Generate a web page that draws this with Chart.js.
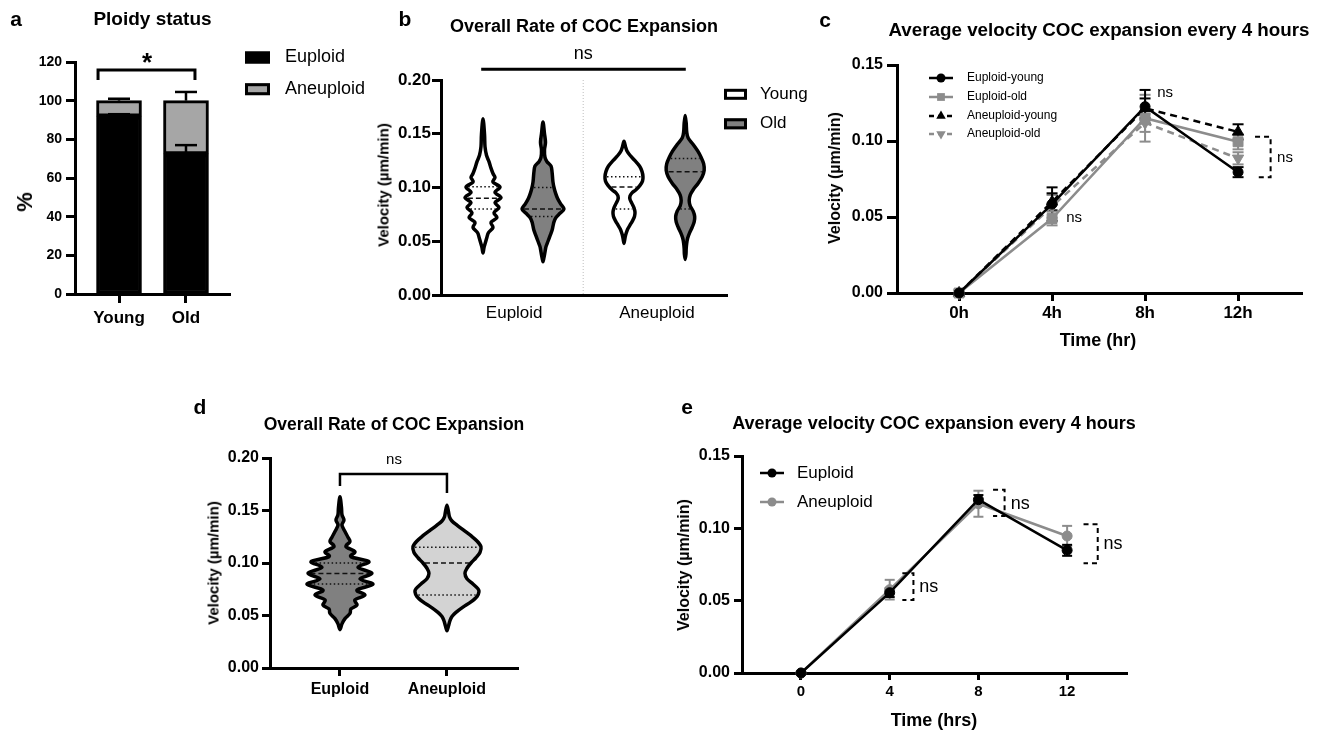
<!DOCTYPE html>
<html>
<head>
<meta charset="utf-8">
<script src="https://cdn.jsdelivr.net/npm/chart.js@4.4.3/dist/chart.umd.min.js"></script>
<style>
    html, body { margin: 0; padding: 0; background: #fff; }
    #fig { position: relative; width: 1320px; height: 730px; overflow: hidden; font-family: 'Liberation Sans', Arial, Helvetica, sans-serif; }
    #fig canvas { position: absolute; left: 0; top: 0; }
    .lbl { position: absolute; white-space: nowrap; transform: translate(-50%, -50%); color: #000; line-height: 1; }
    .rot { transform: translate(-50%, -50%) rotate(-90deg); }
</style>
</head>
<body>
<div id="fig"></div>
<script>
// ---- panel a: ploidy status ----
const ploidyGroups = ['Young', 'Old'];
const ploidyNames = ['Euploid', 'Aneuploid'];
const euploidPct = [92, 72.5];
const aneuploidPct = [8, 27.5];
const euploidErr = [1, 4.5];
const aneuploidErr = [1, 4.5];
const pctTicks = [0, 20, 40, 60, 80, 100, 120];

// ---- panel b: overall rate, ploidy x age (violin profiles: value, relative width) ----
const bCategories = ['Euploid', 'Aneuploid'];
const ageNames = ['Young', 'Old'];
const velTicks20 = [0, 0.05, 0.10, 0.15, 0.20];
const euYoungVel = [0.164, 0.150, 0.138, 0.130, 0.124, 0.118, 0.113, 0.1093, 0.105, 0.1005, 0.0955, 0.0907, 0.086, 0.0814, 0.0765, 0.072, 0.0675, 0.0628, 0.058, 0.054, 0.049, 0.044, 0.039];
const euYoungDens = [0, 1.5, 2, 3.5, 6, 8, 10, 12, 10, 17, 12, 18, 12, 16, 11, 14, 8, 10, 5.5, 4, 2.5, 1, 0];
const euYoungQuart = [0.08, 0.09, 0.1007];
const euOldVel = [0.161, 0.150, 0.142, 0.135, 0.128, 0.124, 0.120, 0.115, 0.110, 0.105, 0.100, 0.095, 0.090, 0.085, 0.080, 0.076, 0.072, 0.068, 0.064, 0.060, 0.055, 0.050, 0.045, 0.040, 0.035, 0.031];
const euOldDens = [0, 1.5, 2.5, 1.5, 2, 4, 8, 9, 9.5, 10, 11, 12.5, 14.5, 17.5, 21, 17, 13, 11, 10, 9, 7, 5, 3, 2, 1, 0];
const euOldQuart = [0.073, 0.08, 0.10];
const anYoungVel = [0.143, 0.138, 0.134, 0.130, 0.125, 0.120, 0.115, 0.110, 0.106, 0.102, 0.098, 0.095, 0.092, 0.089, 0.085, 0.081, 0.077, 0.073, 0.069, 0.065, 0.061, 0.057, 0.053, 0.048];
const anYoungDens = [0, 1.5, 3, 6, 11, 15.5, 18, 19, 18.5, 16, 12, 8, 6, 6, 8, 10, 11, 10.5, 8.5, 6, 3.5, 2, 1, 0];
const anYoungQuart = [0.08, 0.1005, 0.11];
const anOldVel = [0.167, 0.160, 0.152, 0.146, 0.140, 0.134, 0.128, 0.122, 0.116, 0.110, 0.104, 0.098, 0.093, 0.088, 0.083, 0.078, 0.073, 0.068, 0.063, 0.058, 0.053, 0.048, 0.043, 0.038, 0.033];
const anOldDens = [0, 1, 1.5, 3, 8, 12.5, 16, 18.5, 19, 17, 13, 8, 5, 4, 5, 8, 9.5, 9, 7, 4.5, 2.5, 1.5, 1, 0.8, 0];
const anOldQuart = [0.08, 0.1147, 0.127];

// ---- panel c: velocity every 4 h, four groups (mean, SEM) ----
const timeHours = [0, 4, 8, 12];
const timeLabelsC = ['0h', '4h', '8h', '12h'];
const velTicks15 = [0, 0.05, 0.10, 0.15];
const seriesNamesC = ['Euploid-young', 'Euploid-old', 'Aneuploid-young', 'Aneuploid-old'];
const euYoungMean = [0, 0.0585, 0.1226, 0.0795];
const euYoungSem = [0, 0.011, 0.011, 0.0033];
const euOldMean = [0, 0.049, 0.115, 0.0995];
const euOldSem = [0, 0.0045, 0.0154, 0.005];
const anYoungMean = [0, 0.060, 0.1215, 0.106];
const anYoungSem = [0, 0.0056, 0.0065, 0.005];
const anOldMean = [0, 0.057, 0.112, 0.0886];
const anOldSem = [0, 0.0075, 0.006, 0.004];

// ---- panel d: overall rate by ploidy ----
const dCategories = ['Euploid', 'Aneuploid'];
const euploidVel = [0.163, 0.153, 0.146, 0.141, 0.136, 0.130, 0.1245, 0.1203, 0.1156, 0.1108, 0.106, 0.1013, 0.0959, 0.0902, 0.0848, 0.0797, 0.0743, 0.0695, 0.0648, 0.060, 0.0562, 0.052, 0.047, 0.042, 0.0365];
const euploidDens = [0, 1.5, 2, 4, 2, 5, 8, 10, 6, 15, 11, 29, 18, 32, 20, 33, 17, 25, 15, 17, 11, 10, 5, 2, 0];
const euploidQuart = [0.08, 0.09, 0.10];
const aneuploidVel = [0.155, 0.149, 0.144, 0.140, 0.136, 0.131, 0.126, 0.121, 0.1156, 0.110, 0.105, 0.100, 0.095, 0.0902, 0.085, 0.080, 0.0755, 0.0727, 0.068, 0.063, 0.058, 0.053, 0.049, 0.045, 0.040, 0.0355];
const aneuploidDens = [0, 1.5, 2.5, 5, 10, 17, 24, 30, 34, 33, 29, 24, 20, 18, 20, 26, 31, 32, 30, 24, 16, 9, 5, 3, 1.5, 0];
const aneuploidQuart = [0.0695, 0.10, 0.115];

// ---- panel e: velocity every 4 h by ploidy (mean, SEM) ----
const timeLabelsE = ['0', '4', '8', '12'];
const seriesNamesE = ['Euploid', 'Aneuploid'];
const euploidMean = [0, 0.0555, 0.1198, 0.0848];
const euploidSem = [0, 0.003, 0.0032, 0.0038];
const aneuploidMean = [0, 0.0576, 0.117, 0.0947];
const aneuploidSem = [0, 0.0068, 0.009, 0.007];

const FONT = "'Liberation Sans', Arial, Helvetica, sans-serif";
const W = 1320, H = 730;
const AXIS_W = 60, AXIS_H = 40;
const GRAY = '#8c8c8c';
const fig = document.getElementById('fig');

function addText(txt, x, y, size, bold, rotate) {
    const d = document.createElement('div');
    d.className = 'lbl' + (rotate ? ' rot' : '');
    d.textContent = txt;
    d.style.left = x + 'px';
    d.style.top = y + 'px';
    d.style.fontSize = size + 'px';
    d.style.fontWeight = bold ? 'bold' : 'normal';
    fig.appendChild(d);
}

function makeCtx() {
    const c = document.createElement('canvas');
    c.width = W;
    c.height = H;
    fig.appendChild(c);
    return c.getContext('2d');
}

function padFor(a) {
    return { left: a.l - AXIS_W, top: a.t, right: W - a.r, bottom: H - a.b - AXIS_H };
}

function axis(o) {
    return {
        type: 'linear', min: o.min, max: o.max, offset: false, stacked: !!o.stacked,
        afterBuildTicks: (s) => { s.ticks = o.ticks.map((v) => ({ value: v })); },
        afterFit: (s) => { if (o.isX) s.height = AXIS_H; else s.width = AXIS_W; },
        grid: { display: o.tickLen > 0, drawOnChartArea: false, drawTicks: true, tickLength: o.tickLen, tickWidth: 3, tickColor: '#000', offset: false },
        border: { display: true, color: '#000', width: 3 },
        ticks: {
            color: '#000', padding: o.pad, maxRotation: 0, autoSkip: false, callback: o.fmt,
            font: { family: FONT, size: o.size, weight: o.bold ? 'bold' : 'normal', lineHeight: 1.2 },
        },
    };
}

function baseOptions(area) {
    return {
        responsive: false, animation: false, devicePixelRatio: 1,
        layout: { padding: padFor(area) },
        plugins: { legend: { display: false }, tooltip: { enabled: false } },
    };
}

// drawing helpers
function path(ctx, pts, width, color, dash) {
    ctx.save();
    ctx.beginPath();
    ctx.lineWidth = width;
    ctx.strokeStyle = color;
    ctx.lineCap = 'butt';
    ctx.setLineDash(dash || []);
    pts.forEach((p, i) => (i ? ctx.lineTo(p[0], p[1]) : ctx.moveTo(p[0], p[1])));
    ctx.stroke();
    ctx.restore();
}

function label(ctx, s, x, y, size, bold, align) {
    ctx.save();
    ctx.fillStyle = '#000';
    ctx.font = (bold ? 'bold ' : '') + size + 'px ' + FONT;
    ctx.textAlign = align || 'center';
    ctx.textBaseline = 'middle';
    ctx.fillText(s, x, y);
    ctx.restore();
}

function marker(ctx, style, x, y, r, color) {
    ctx.save();
    ctx.fillStyle = color;
    ctx.beginPath();
    if (style === 'circle') {
        ctx.arc(x, y, r, 0, Math.PI * 2);
    } else if (style === 'rect') {
        ctx.rect(x - r * 0.707, y - r * 0.707, r * 1.414, r * 1.414);
    } else {
        const s = style === 'triangle' ? 1 : -1;
        ctx.moveTo(x, y - s * r);
        ctx.lineTo(x + r * 0.866, y + s * r * 0.5);
        ctx.lineTo(x - r * 0.866, y + s * r * 0.5);
        ctx.closePath();
    }
    ctx.fill();
    ctx.restore();
}

function legendBox(ctx, x, y, w, h, fill) {
    ctx.save();
    ctx.fillStyle = fill;
    ctx.fillRect(x - w / 2, y - h / 2, w, h);
    ctx.lineWidth = 3;
    ctx.strokeStyle = '#000';
    ctx.strokeRect(x - w / 2 + 1.5, y - h / 2 + 1.5, w - 3, h - 3);
    ctx.restore();
}

function densAt(vals, dens, q) {
    for (let i = 0; i < vals.length - 1; i++) {
        if (q <= vals[i] && q >= vals[i + 1]) {
            const t = (vals[i] - q) / (vals[i] - vals[i + 1]);
            return dens[i] + t * (dens[i + 1] - dens[i]);
        }
    }
    return 0;
}

function drawViolin(chart, v, scale) {
    const { ctx } = chart;
    const xs = chart.scales.x, ys = chart.scales.y;
    const pts = [];
    const n = v.vals.length;
    for (let i = 0; i < n; i++) pts.push([xs.getPixelForValue(v.pos + v.dens[i] * scale), ys.getPixelForValue(v.vals[i])]);
    for (let i = n - 2; i > 0; i--) pts.push([xs.getPixelForValue(v.pos - v.dens[i] * scale), ys.getPixelForValue(v.vals[i])]);

    // closed Catmull-Rom outline
    const outline = new Path2D();
    const m = pts.length;
    outline.moveTo(pts[0][0], pts[0][1]);
    for (let i = 0; i < m; i++) {
        const p0 = pts[(i - 1 + m) % m], p1 = pts[i], p2 = pts[(i + 1) % m], p3 = pts[(i + 2) % m];
        const t = 1 / 6;
        outline.bezierCurveTo(
            p1[0] + (p2[0] - p0[0]) * t, p1[1] + (p2[1] - p0[1]) * t,
            p2[0] - (p3[0] - p1[0]) * t, p2[1] - (p3[1] - p1[1]) * t,
            p2[0], p2[1]
        );
    }
    outline.closePath();

    ctx.save();
    ctx.fillStyle = v.fill;
    ctx.fill(outline);

    // quartiles: dotted, median: dashed
    v.quart.forEach((q, qi) => {
        const half = densAt(v.vals, v.dens, q) * scale;
        const x0 = xs.getPixelForValue(v.pos - half) + 2;
        const x1 = xs.getPixelForValue(v.pos + half) - 2;
        const py = ys.getPixelForValue(q);
        path(ctx, [[x0, py], [x1, py]], 1.4, '#111', qi === 1 ? [5, 3] : [1.5, 2.5]);
    });

    ctx.lineWidth = 3.5;
    ctx.lineJoin = 'round';
    ctx.strokeStyle = '#000';
    ctx.setLineDash([]);
    ctx.stroke(outline);
    ctx.restore();
}

function drawErrorBars(chart, xs, means, sems, color, cap) {
    const { ctx } = chart;
    const sx = chart.scales.x, sy = chart.scales.y;
    xs.forEach((xv, i) => {
        if (!sems[i]) return;
        const px = sx.getPixelForValue(xv);
        const top = sy.getPixelForValue(means[i] + sems[i]);
        const bot = sy.getPixelForValue(means[i] - sems[i]);
        path(ctx, [[px, top], [px, bot]], 2, color);
        path(ctx, [[px - cap / 2, top], [px + cap / 2, top]], 2, color);
        path(ctx, [[px - cap / 2, bot], [px + cap / 2, bot]], 2, color);
    });
}

function dashBracket(chart, x0, x1, v0, v1) {
    const sx = chart.scales.x, sy = chart.scales.y;
    const a = sx.getPixelForValue(x0), b = sx.getPixelForValue(x1);
    const t = sy.getPixelForValue(v0), u = sy.getPixelForValue(v1);
    path(chart.ctx, [[a, t], [b, t], [b, u], [a, u]], 2, '#000', [5, 4]);
}

// ================= panel a =================
const areaA = { l: 75, t: 62, r: 230, b: 294 };
const ploidyExtras = {
    id: 'ploidyExtras',
    afterDatasetsDraw(chart) {
        const { ctx } = chart;
        const sx = chart.scales.x, sy = chart.scales.y;
        ploidyGroups.forEach((g, i) => {
            const px = sx.getPixelForValue(i);
            const stacks = [[euploidPct[i], euploidErr[i]], [euploidPct[i] + aneuploidPct[i], aneuploidErr[i]]];
            stacks.forEach(([base, err]) => {
                const y0 = sy.getPixelForValue(base), y1 = sy.getPixelForValue(base + err);
                path(ctx, [[px, y0], [px, y1]], 2.5, '#000');
                path(ctx, [[px - 11, y1], [px + 11, y1]], 2.5, '#000');
            });
        });
    },
    afterDraw(chart) {
        const { ctx } = chart;
        const sx = chart.scales.x, sy = chart.scales.y;
        const l = sx.getPixelForValue(-0.313), r = sx.getPixelForValue(1.134);
        const top = sy.getPixelForValue(115.9), low = sy.getPixelForValue(110.7);
        path(ctx, [[l, low], [l, top], [r, top], [r, low]], 3, '#000');
        label(ctx, '*', sx.getPixelForValue(0.418), sy.getPixelForValue(122.6) + 7, 26, true);
        // legend
        const rows = [57.5, 89.2];
        const fills = ['#000', '#a6a6a6'];
        ploidyNames.forEach((name, i) => {
            legendBox(ctx, 257.5, rows[i], 25, 12, fills[i]);
            label(ctx, name, 285, rows[i], 18, false, 'left');
        });
    },
};

new Chart(makeCtx(), {
    type: 'bar',
    data: {
        datasets: [
            { label: ploidyNames[0], data: ploidyGroups.map((g, i) => ({ x: i, y: euploidPct[i] })), backgroundColor: '#000', borderColor: '#000', borderWidth: 3, borderSkipped: false, barThickness: 45 },
            { label: ploidyNames[1], data: ploidyGroups.map((g, i) => ({ x: i, y: aneuploidPct[i] })), backgroundColor: '#a6a6a6', borderColor: '#000', borderWidth: 3, borderSkipped: false, barThickness: 45 },
        ],
    },
    options: Object.assign(baseOptions(areaA), {
        scales: {
            x: axis({ min: -0.657, max: 1.657, ticks: [0, 1], isX: true, tickLen: 9, pad: 5, size: 17, bold: true, stacked: true, fmt: (v, i) => ploidyGroups[i] }),
            y: axis({ min: 0, max: 120, ticks: pctTicks, tickLen: 9, pad: 4, size: 14, bold: true, stacked: true, fmt: (v) => String(v) }),
        },
    }),
    plugins: [ploidyExtras],
});

// ================= panel b =================
const areaB = { l: 441, t: 80, r: 727, b: 295 };
const violinsB = [
    { vals: euYoungVel, dens: euYoungDens, quart: euYoungQuart, pos: 0.7, fill: '#ffffff' },
    { vals: euOldVel, dens: euOldDens, quart: euOldQuart, pos: 1.7, fill: '#808080' },
    { vals: anYoungVel, dens: anYoungDens, quart: anYoungQuart, pos: 3.05, fill: '#ffffff' },
    { vals: anOldVel, dens: anOldDens, quart: anOldQuart, pos: 4.07, fill: '#808080' },
];
const violinExtrasB = {
    id: 'violinExtrasB',
    beforeDatasetsDraw(chart) {
        const sx = chart.scales.x, a = chart.chartArea;
        const px = sx.getPixelForValue(2.37);
        path(chart.ctx, [[px, a.top], [px, a.bottom]], 1, '#bdbdbd', [1, 2]);
    },
    afterDatasetsDraw(chart) {
        violinsB.forEach((v) => drawViolin(chart, v, 1 / 60));
    },
    afterDraw(chart) {
        const { ctx } = chart;
        const sx = chart.scales.x, sy = chart.scales.y;
        const yb = sy.getPixelForValue(0.21);
        path(ctx, [[sx.getPixelForValue(0.67), yb], [sx.getPixelForValue(4.08), yb]], 3, '#000');
        label(ctx, 'ns', sx.getPixelForValue(2.37), sy.getPixelForValue(0.224), 18, false);
        const rows = [94.3, 123.8];
        const fills = ['#ffffff', '#808080'];
        ageNames.forEach((name, i) => {
            legendBox(ctx, 735.5, rows[i], 23, 11, fills[i]);
            label(ctx, name, 760, rows[i], 17, false, 'left');
        });
    },
};

new Chart(makeCtx(), {
    type: 'scatter',
    data: { datasets: [] },
    options: Object.assign(baseOptions(areaB), {
        scales: {
            x: axis({ min: 0, max: 4.767, ticks: [1.22, 3.6], isX: true, tickLen: 0, pad: 8, size: 17, bold: false, fmt: (v, i) => bCategories[i] }),
            y: axis({ min: 0, max: 0.2, ticks: velTicks20, tickLen: 9, pad: 1, size: 17, bold: true, fmt: (v) => v.toFixed(2) }),
        },
    }),
    plugins: [violinExtrasB],
});

// ================= panel c =================
const areaC = { l: 897, t: 65, r: 1302, b: 293 };
const pts = (means) => timeHours.map((h, i) => ({ x: h, y: means[i] }));
const seriesC = [
    { mean: euYoungMean, sem: euYoungSem, color: '#000', dash: [], style: 'circle', r: 5 },
    { mean: euOldMean, sem: euOldSem, color: GRAY, dash: [], style: 'rect', r: 7 },
    { mean: anYoungMean, sem: anYoungSem, color: '#000', dash: [7, 5], style: 'triangle', r: 6.5 },
    { mean: anOldMean, sem: anOldSem, color: GRAY, dash: [7, 5], style: 'triangleDown', r: 6.5 },
];
const drawOrderC = [0, 1, 3, 2];
const extrasC = {
    id: 'extrasC',
    beforeDatasetsDraw(chart) {
        seriesC.slice().reverse().forEach((s) => drawErrorBars(chart, timeHours, s.mean, s.sem, s.color, 11));
    },
    afterDraw(chart) {
        const { ctx } = chart;
        const sx = chart.scales.x, sy = chart.scales.y;
        label(ctx, 'ns', sx.getPixelForValue(8.86), sy.getPixelForValue(0.1316), 15, false);
        label(ctx, 'ns', sx.getPixelForValue(4.95), sy.getPixelForValue(0.0493), 15, false);
        dashBracket(chart, 12.73, 13.4, 0.1028, 0.0761);
        label(ctx, 'ns', sx.getPixelForValue(14.02), sy.getPixelForValue(0.0888), 15, false);
        const rows = [78, 97, 116, 134];
        seriesC.forEach((s, i) => {
            path(ctx, [[929, rows[i]], [953, rows[i]]], 2.5, s.color, s.dash.length ? [5, 4] : []);
            marker(ctx, s.style, 941, rows[i], s.style === 'circle' ? 4.5 : 5.5, s.color);
            label(ctx, seriesNamesC[i], 967, rows[i], 12, false, 'left');
        });
    },
};

new Chart(makeCtx(), {
    type: 'line',
    data: {
        datasets: drawOrderC.map((k) => {
            const s = seriesC[k];
            return {
                label: seriesNamesC[k], data: pts(s.mean), borderColor: s.color, borderWidth: 2.5, borderDash: s.dash,
                pointStyle: s.style === 'triangleDown' ? 'triangle' : s.style, pointRotation: s.style === 'triangleDown' ? 180 : 0,
                pointRadius: s.r, pointBackgroundColor: s.color, pointBorderColor: s.color, pointBorderWidth: 1,
                tension: 0, fill: false, clip: false,
            };
        }),
    },
    options: Object.assign(baseOptions(areaC), {
        scales: {
            x: axis({ min: -2.67, max: 14.75, ticks: timeHours, isX: true, tickLen: 8, pad: 2, size: 17, bold: true, fmt: (v, i) => timeLabelsC[i] }),
            y: axis({ min: 0, max: 0.15, ticks: velTicks15, tickLen: 10, pad: 4, size: 16, bold: true, fmt: (v) => v.toFixed(2) }),
        },
    }),
    plugins: [extrasC],
});

// ================= panel d =================
const areaD = { l: 270, t: 458, r: 518, b: 668 };
const violinsD = [
    { vals: euploidVel, dens: euploidDens, quart: euploidQuart, pos: 0, fill: '#808080' },
    { vals: aneuploidVel, dens: aneuploidDens, quart: aneuploidQuart, pos: 1, fill: '#d3d3d3' },
];
const violinExtrasD = {
    id: 'violinExtrasD',
    afterDatasetsDraw(chart) {
        violinsD.forEach((v) => drawViolin(chart, v, 1 / 107));
    },
    afterDraw(chart) {
        const { ctx } = chart;
        const sx = chart.scales.x, sy = chart.scales.y;
        const l = sx.getPixelForValue(0), r = sx.getPixelForValue(1);
        path(ctx, [[l, sy.getPixelForValue(0.1733)], [l, sy.getPixelForValue(0.1848)], [r, sy.getPixelForValue(0.1848)], [r, sy.getPixelForValue(0.1667)]], 2.5, '#000');
        label(ctx, 'ns', sx.getPixelForValue(0.505), sy.getPixelForValue(0.198), 15, false);
    },
};

new Chart(makeCtx(), {
    type: 'scatter',
    data: { datasets: [] },
    options: Object.assign(baseOptions(areaD), {
        scales: {
            x: axis({ min: -0.654, max: 1.664, ticks: [0, 1], isX: true, tickLen: 8, pad: 4, size: 16, bold: true, fmt: (v, i) => dCategories[i] }),
            y: axis({ min: 0, max: 0.2, ticks: velTicks20, tickLen: 8, pad: 3, size: 16, bold: true, fmt: (v) => v.toFixed(2) }),
        },
    }),
    plugins: [violinExtrasD],
});

// ================= panel e =================
const areaE = { l: 742, t: 456, r: 1127, b: 673 };
const seriesE = [
    { mean: euploidMean, sem: euploidSem, color: '#000' },
    { mean: aneuploidMean, sem: aneuploidSem, color: GRAY },
];
const extrasE = {
    id: 'extrasE',
    beforeDatasetsDraw(chart) {
        seriesE.slice().reverse().forEach((s) => drawErrorBars(chart, timeHours, s.mean, s.sem, s.color, 10));
    },
    afterDraw(chart) {
        const { ctx } = chart;
        const sx = chart.scales.x, sy = chart.scales.y;
        dashBracket(chart, 4.57, 5.07, 0.069, 0.0504);
        label(ctx, 'ns', sx.getPixelForValue(5.76), sy.getPixelForValue(0.0594), 18, false);
        dashBracket(chart, 8.66, 9.18, 0.1266, 0.1086);
        label(ctx, 'ns', sx.getPixelForValue(9.89), sy.getPixelForValue(0.1168), 18, false);
        dashBracket(chart, 12.74, 13.38, 0.1028, 0.0758);
        label(ctx, 'ns', sx.getPixelForValue(14.07), sy.getPixelForValue(0.0892), 18, false);
        const rows = [473, 502];
        seriesE.forEach((s, i) => {
            path(ctx, [[760, rows[i]], [784, rows[i]]], 2.5, s.color);
            marker(ctx, 'circle', 772, rows[i], 4.5, s.color);
            label(ctx, seriesNamesE[i], 797, rows[i], 17, false, 'left');
        });
    },
};

new Chart(makeCtx(), {
    type: 'line',
    data: {
        datasets: seriesE.map((s, i) => ({
            label: seriesNamesE[i], data: pts(s.mean), borderColor: s.color, borderWidth: 2.5,
            pointStyle: 'circle', pointRadius: 5, pointBackgroundColor: s.color, pointBorderColor: s.color, pointBorderWidth: 1,
            tension: 0, fill: false, clip: false,
        })),
    },
    options: Object.assign(baseOptions(areaE), {
        scales: {
            x: axis({ min: -2.66, max: 14.7, ticks: timeHours, isX: true, tickLen: 7, pad: 3, size: 15, bold: true, fmt: (v, i) => timeLabelsE[i] }),
            y: axis({ min: 0, max: 0.15, ticks: velTicks15, tickLen: 8, pad: 4, size: 16, bold: true, fmt: (v) => v.toFixed(2) }),
        },
    }),
    plugins: [extrasE],
});

// ---- panel letters, titles, axis titles ----
addText('a', 16, 18, 21, true);
addText('Ploidy status', 152.5, 18, 19, true);
addText('%', 25, 202, 22, true, true);
addText('b', 405, 18, 21, true);
addText('Overall Rate of COC Expansion', 584, 26, 18, true);
addText('Velocity (\u00b5m/min)', 383, 185, 15, true, true);
addText('c', 825, 19, 21, true);
addText('Average velocity COC expansion every 4 hours', 1099, 30, 18.8, true);
addText('Velocity (\u00b5m/min)', 835, 178, 16, true, true);
addText('Time (hr)', 1098, 340, 18, true);
addText('d', 200, 406, 21, true);
addText('Overall Rate of COC Expansion', 394, 425, 17.5, true);
addText('Velocity (\u00b5m/min)', 213, 563, 15, true, true);
addText('e', 687, 406, 21, true);
addText('Average velocity COC expansion every 4 hours', 934, 423, 18, true);
addText('Velocity (\u00b5m/min)', 684, 565, 16, true, true);
addText('Time (hrs)', 934, 720, 18, true);
</script>
</body>
</html>
